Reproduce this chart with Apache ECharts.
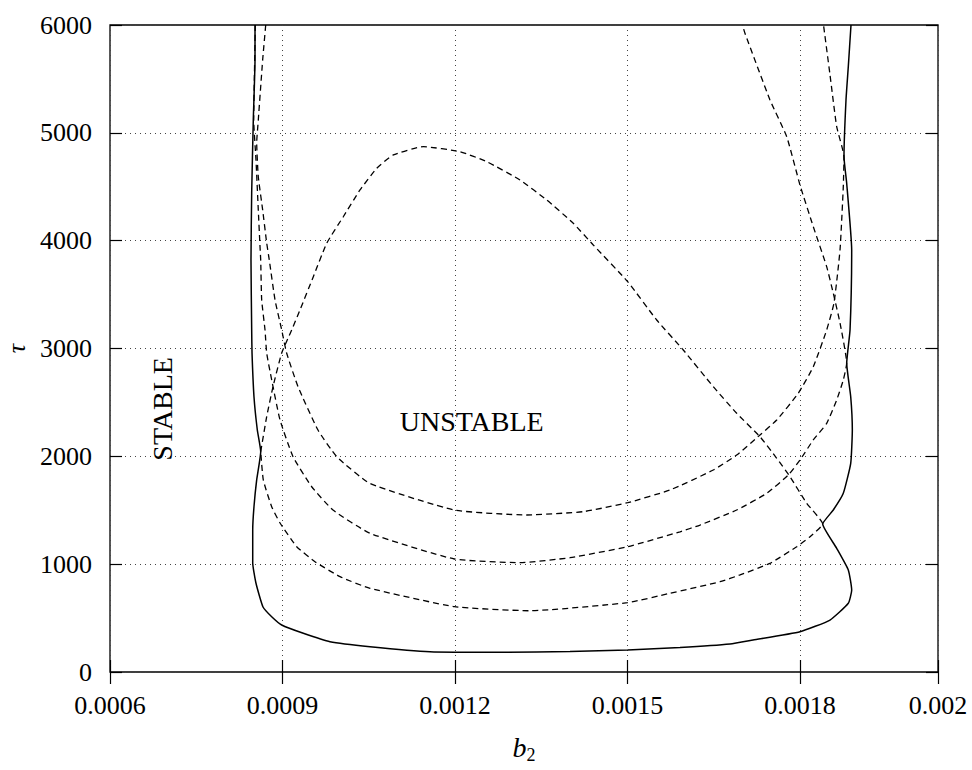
<!DOCTYPE html>
<html><head><meta charset="utf-8">
<script src="https://cdn.jsdelivr.net/npm/echarts@6/dist/echarts.min.js"></script>
<style>html,body{margin:0;padding:0;background:#fff}#c{width:972px;height:770px}</style>
</head><body><div id="c"></div>
<script>
// Axis ranges / ticks
const X_MIN = 0.0006, X_MAX = 0.00204, X_STEP = 0.0003;
const Y_MIN = 0, Y_MAX = 6000, Y_STEP = 1000;

// Solid envelope curve (b2, tau)
const solidB2 = [8.522e-4, 8.522e-4, 8.492e-4, 8.464e-4, 8.452e-4, 8.464e-4, 8.470e-4, 8.504e-4, 8.562e-4, 8.621e-4, 8.551e-4, 8.504e-4, 8.482e-4, 8.482e-4, 8.539e-4, 8.661e-4, 8.812e-4, 8.986e-4, 9.362e-4, 9.826e-4, 10.522e-4, 11.565e-4, 12.835e-4, 14.0e-4, 15.003e-4, 15.913e-4, 16.783e-4, 17.183e-4, 18.0e-4, 18.522e-4, 18.840e-4, 18.899e-4, 18.840e-4, 18.638e-4, 18.395e-4, 18.579e-4, 18.753e-4, 18.882e-4, 18.910e-4, 18.882e-4, 18.812e-4, 18.870e-4, 18.899e-4, 18.812e-4, 18.765e-4, 18.800e-4, 18.840e-4, 18.887e-4];
const solidTau = [6000, 5676, 5119, 4442, 3821, 3172, 2958, 2553, 2244, 2043, 1781, 1533, 1317, 1011, 823, 603, 513, 436, 359, 281, 235, 188, 183, 190, 204, 227, 260, 297, 374, 482, 637, 760, 946, 1147, 1372, 1502, 1657, 1935, 2244, 2553, 2863, 3172, 3914, 4532, 4779, 5305, 5614, 6000];

// Dashed curve B (U shape, minimum near 1450)
const curveBB2 = [8.708e-4, 8.655e-4, 8.579e-4, 8.551e-4, 8.579e-4, 8.655e-4, 8.725e-4, 8.770e-4, 8.870e-4, 8.986e-4, 9.073e-4, 9.270e-4, 9.617e-4, 9.943e-4, 10.522e-4, 11.988e-4, 13.247e-4, 14.231e-4, 15.003e-4, 15.739e-4, 16.492e-4, 16.899e-4, 17.304e-4, 17.595e-4, 17.970e-4, 18.231e-4, 18.464e-4, 18.591e-4, 18.696e-4, 18.753e-4, 18.765e-4, 18.638e-4, 18.522e-4, 18.409e-4];
const curveBTau = [6000, 5676, 5119, 4906, 4593, 4285, 3979, 3821, 3450, 3172, 2956, 2646, 2244, 1997, 1748, 1502, 1456, 1487, 1570, 1688, 1873, 2012, 2198, 2337, 2585, 2831, 3172, 3422, 3914, 4501, 4776, 5057, 5537, 6000];

// Dashed curve C (U shape, minimum near 1000) continuing into the diagonal branch
const curveCB2 = [8.527e-4, 8.510e-4, 8.499e-4, 8.539e-4, 8.579e-4, 8.609e-4, 8.621e-4, 8.638e-4, 8.696e-4, 8.725e-4, 8.812e-4, 8.957e-4, 9.183e-4, 9.508e-4, 9.878e-4, 10.522e-4, 11.988e-4, 13.130e-4, 14.0e-4, 15.003e-4, 15.913e-4, 16.261e-4, 16.899e-4, 17.421e-4, 17.797e-4, 18.0e-4, 18.231e-4, 18.464e-4, 18.638e-4, 18.753e-4, 18.812e-4, 18.696e-4, 18.579e-4, 18.464e-4, 18.231e-4, 18.0e-4, 17.769e-4, 17.478e-4, 17.043e-4, 17.0e-4];
const curveCTau = [6000, 5490, 5119, 4748, 4285, 3944, 3821, 3450, 3172, 2958, 2708, 2337, 1997, 1718, 1502, 1286, 1048, 1014, 1060, 1162, 1300, 1363, 1502, 1657, 1827, 1966, 2152, 2306, 2523, 2708, 2863, 3237, 3512, 3759, 4130, 4516, 4964, 5305, 5923, 6000];

// Dashed closed loop: arch (peak near 4870) and lower U (minimum near 570)
const loopB2 = [8.621e-4, 8.725e-4, 8.835e-4, 8.986e-4, 9.160e-4, 9.304e-4, 9.536e-4, 9.769e-4, 10.057e-4, 10.348e-4, 10.638e-4, 10.927e-4, 11.449e-4, 12.087e-4, 12.551e-4, 13.130e-4, 13.595e-4, 14.057e-4, 14.405e-4, 15.003e-4, 15.508e-4, 15.970e-4, 16.492e-4, 16.899e-4, 17.304e-4, 17.595e-4, 17.826e-4, 18.116e-4, 18.395e-4, 18.174e-4, 17.943e-4, 17.478e-4, 16.957e-4, 16.609e-4, 15.739e-4, 15.003e-4, 13.304e-4, 11.988e-4, 10.522e-4, 10.0e-4, 9.565e-4, 9.247e-4, 8.957e-4, 8.812e-4, 8.666e-4, 8.621e-4];
const loopTau = [2043, 2368, 2646, 2958, 3172, 3357, 3666, 3976, 4222, 4470, 4671, 4795, 4872, 4825, 4733, 4563, 4377, 4161, 3960, 3620, 3264, 2986, 2646, 2399, 2182, 1982, 1811, 1565, 1372, 1255, 1162, 1008, 900, 837, 730, 643, 568, 606, 776, 884, 1023, 1162, 1382, 1533, 1781, 2043];

// Region annotations (data coordinates of text centres)
const labelUnstable = {text: 'UNSTABLE', b2: 12.29e-4, tau: 2320};
const labelStable = {text: 'STABLE', b2: 6.913e-4, tau: 2440};

const serif = 'Liberation Serif';
const zip = (a, b) => a.map((v, i) => [v, b[i]]);
const dotted = {show: true, lineStyle: {color: '#444', width: 1, type: [1, 4]}};
const tick = {show: true, inside: true, length: 12, lineStyle: {color: '#000', width: 1.2}};

const chart = echarts.init(document.getElementById('c'), null, {renderer: 'svg', width: 972, height: 770});

const solidStyle = {color: '#000', width: 1.5, type: 'solid'};
const dashStyle = {color: '#000', width: 1.3, type: [6, 4]};
function lineSeries(data, style) {
  return {type: 'line', data: data, showSymbol: false, symbol: 'none', smooth: 0.15,
          lineStyle: style, silent: true, xAxisIndex: 0, yAxisIndex: 0};
}
const tickRich = {t: {fontFamily: serif, fontSize: 26, color: '#000'}};

chart.setOption({
  backgroundColor: '#fff',
  animation: false,
  textStyle: {fontFamily: serif, color: '#000'},
  grid: {left: 110, right: 34, top: 25, bottom: 98, show: true, borderColor: '#000', borderWidth: 1.3,
         containLabel: false, outerBoundsMode: 'none'},
  xAxis: [{
    type: 'value', min: X_MIN, max: X_MAX, interval: X_STEP, position: 'bottom',
    axisLine: {show: false}, axisTick: tick, splitLine: dotted,
    axisLabel: {margin: 20, fontFamily: serif, fontSize: 26, color: '#000', rich: tickRich,
      formatter: v => '{t|' + (v > 0.00203 ? '0.002' : v.toFixed(4)) + '}'},
    name: '{b|b}{s|2}', nameLocation: 'middle', nameGap: 58,
    nameTextStyle: {rich: {
      b: {fontFamily: serif, fontStyle: 'italic', fontSize: 28, color: '#000'},
      s: {fontFamily: serif, fontSize: 18, color: '#000', padding: [16, 0, 0, 0]}
    }}
  }, {
    type: 'value', min: X_MIN, max: X_MAX, interval: X_STEP, position: 'top',
    axisLine: {show: false}, axisTick: tick, axisLabel: {show: false}, splitLine: {show: false}
  }],
  yAxis: [{
    type: 'value', min: Y_MIN, max: Y_MAX, interval: Y_STEP, position: 'left',
    axisLine: {show: false}, axisTick: tick, splitLine: dotted,
    axisLabel: {margin: 18, fontFamily: serif, fontSize: 26, color: '#000', rich: tickRich,
      formatter: v => '{t|' + String(v) + '}'},
    name: 'τ', nameLocation: 'middle', nameGap: 80, nameRotate: 90,
    nameTextStyle: {fontFamily: serif, fontStyle: 'italic', fontSize: 26, color: '#000'}
  }, {
    type: 'value', min: Y_MIN, max: Y_MAX, interval: Y_STEP, position: 'right',
    axisLine: {show: false}, axisTick: tick, axisLabel: {show: false}, splitLine: {show: false}
  }],
  series: [
    lineSeries(zip(solidB2, solidTau), solidStyle),
    lineSeries(zip(curveBB2, curveBTau), dashStyle),
    lineSeries(zip(curveCB2, curveCTau), dashStyle),
    lineSeries(zip(loopB2, loopTau), dashStyle)
  ]
});

const pU = chart.convertToPixel({gridIndex: 0}, [labelUnstable.b2, labelUnstable.tau]);
const pS = chart.convertToPixel({gridIndex: 0}, [labelStable.b2, labelStable.tau]);
chart.setOption({
  graphic: [
    {type: 'text', x: pU[0], y: pU[1], style: {text: labelUnstable.text, fontFamily: serif, fontSize: 28, fill: '#000', align: 'center', verticalAlign: 'middle'}},
    {type: 'text', x: pS[0], y: pS[1], rotation: Math.PI / 2, style: {text: labelStable.text, fontFamily: serif, fontSize: 28, fill: '#000', align: 'center', verticalAlign: 'middle'}}
  ]
});
</script>
</body></html>
